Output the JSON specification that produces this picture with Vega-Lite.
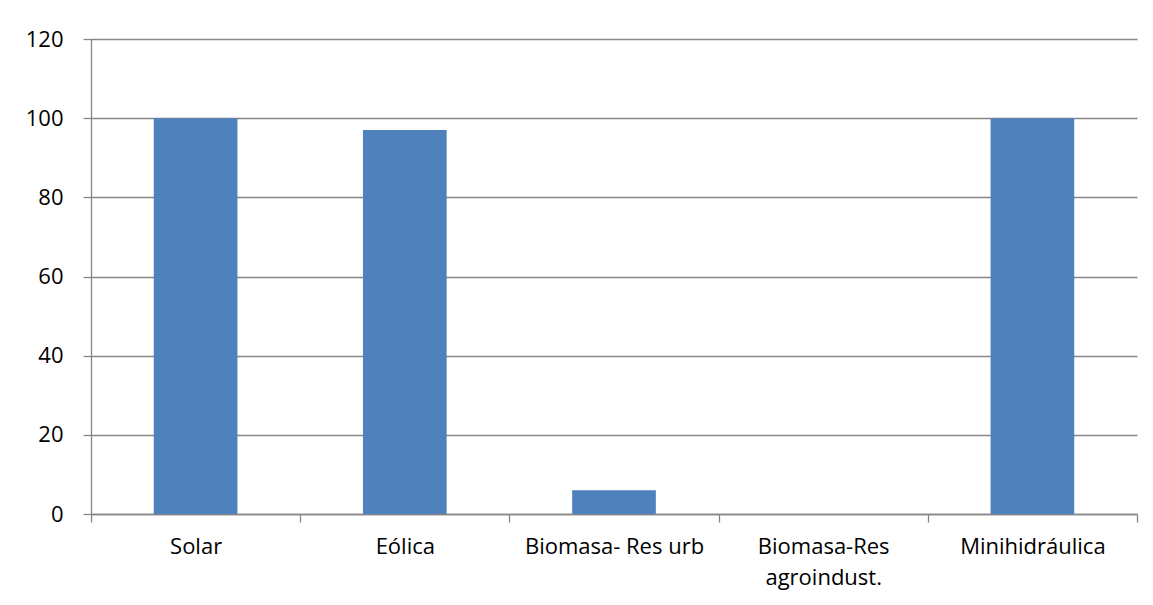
{
  "$schema": "https://vega.github.io/schema/vega-lite/v6.json",
  "autosize": {"type": "none"},
  "padding": {"left": 91, "top": 39, "right": 16, "bottom": 91},
  "width": 1046,
  "height": 475,
  "background": "white",
  "data": {"values": [
    {"fuente": "Solar", "valor": 100},
    {"fuente": "Eólica", "valor": 97},
    {"fuente": "Biomasa- Res urb", "valor": 6},
    {"fuente": "Biomasa-Res agroindust.", "valor": 0},
    {"fuente": "Minihidráulica", "valor": 100}
  ]},
  "mark": {"type": "bar", "color": "#4F81BD", "width": {"band": 0.4}},
  "encoding": {
    "x": {
      "field": "fuente", "type": "nominal", "sort": null,
      "scale": {"paddingInner": 0, "paddingOuter": 0},
      "axis": {
        "title": null, "labelAngle": 0, "tickBand": "extent",
        "grid": false, "tickSize": 8, "labelPadding": 14,
        "labelLineHeight": 31, "labelLimit": 0,
        "labelExpr": "datum.label == 'Biomasa-Res agroindust.' ? ['Biomasa-Res', 'agroindust.'] : datum.label"
      }
    },
    "y": {
      "field": "valor", "type": "quantitative",
      "scale": {"domain": [0, 120], "nice": false},
      "axis": {"title": null, "values": [0, 20, 40, 60, 80, 100, 120], "tickSize": 8, "labelPadding": 20, "grid": true}
    }
  },
  "config": {
    "view": {"stroke": null},
    "axis": {
      "domainColor": "#868686", "domainWidth": 1.3,
      "tickColor": "#868686", "tickWidth": 1.3,
      "gridColor": "#868686", "gridWidth": 1.3,
      "labelFont": "Open Sans", "labelFontSize": 22, "labelColor": "#000000"
    }
  }
}
